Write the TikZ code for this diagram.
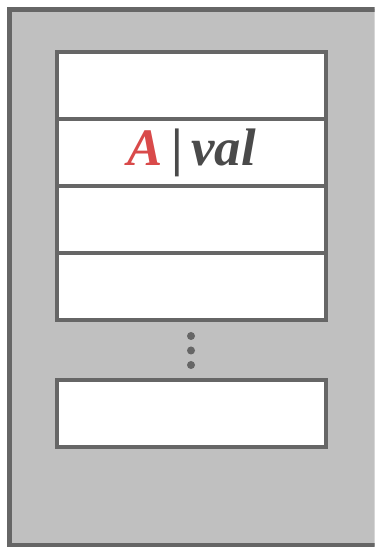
\documentclass[tikz,border=0pt]{standalone}
\usepackage{fontspec}
\usepackage{xcolor}
\usepackage{tikz}
\usetikzlibrary{positioning}
\newfontfamily\keyfont{Liberation Serif}
\definecolor{framegray}{HTML}{666666}
\definecolor{panelgray}{HTML}{C0C0C0}
\definecolor{keyred}{HTML}{D94A4A}
\definecolor{valgray}{HTML}{4A4A4A}
\tikzset{
  panel/.style={
    draw=framegray, fill=panelgray, line width=2.8pt,
    minimum width=9.81cm, minimum height=10.72cm, inner sep=0pt
  },
  cell/.style={
    draw=framegray, fill=white, line width=2.2pt,
    minimum width=5.38cm, minimum height=1.34cm, inner sep=0pt,
    font=\keyfont\fontsize{30}{32}\selectfont\bfseries\itshape
  },
  dot/.style={circle, fill=framegray, minimum size=0.16cm, inner sep=0pt}
}

\begin{document}
\begin{tikzpicture}

\useasboundingbox (0,0) rectangle (7.52,10.94);
\clip (0,0) rectangle (7.49,10.94);

%% ── outer panel ──────────────────────────────────────────────
\node[panel] (table) at (5.095,5.39) {};

%% ── cells ────────────────────────────────────────────────────
\node[cell] (row1) at (3.83,9.23) {};
\node[cell] (row2) at (3.83,7.89)
  {\textcolor{keyred}{A}\,\textcolor{valgray}{\upshape|}\,\textcolor{valgray}{val}};
\node[cell] (row3) at (3.83,6.55) {};
\node[cell] (row4) at (3.83,5.21) {};

%% ── gap ──────────────────────────────────────────────────────
\node[dot] (gap1) at (3.82,4.22) {};
\node[dot] (gap2) at (3.82,3.93) {};
\node[dot] (gap3) at (3.82,3.64) {};

%% ── last cell ────────────────────────────────────────────────
\node[cell] (rowN) at (3.83,2.67) {};

\end{tikzpicture}
\end{document}
